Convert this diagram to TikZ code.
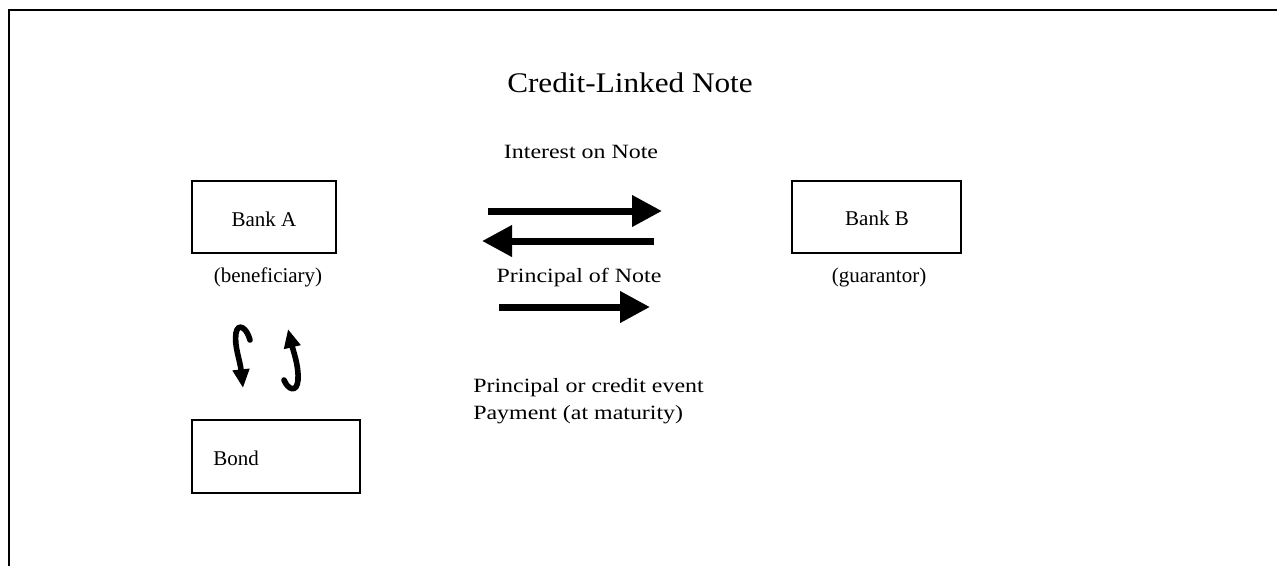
\documentclass[tikz,border=0pt]{standalone}
\usepackage{fontspec}
\setmainfont{Liberation Serif}
\newfontfamily\widefont[FakeStretch=1.18]{Liberation Serif}
\newfontfamily\titlefont[FakeStretch=1.1]{Liberation Serif}
\usetikzlibrary{arrows.meta}
\begin{document}
\begin{tikzpicture}[x=0.75pt,y=-0.75pt,
  frame/.style={line width=2.2pt},
  box/.style={draw,line width=1.5pt,inner sep=0pt,font=\fontsize{15.75}{19}\selectfont},
  small/.style={font=\fontsize{15.75}{19}\selectfont,anchor=base,inner sep=0pt},
  mid/.style={font=\widefont\fontsize{15.2}{20}\selectfont,anchor=base,inner sep=0pt},
  blockarrow/.style={line width=5.25pt,-{Triangle[length=22.5pt,width=22.5pt]}},
  curlarrow/.style={line width=4.2pt,line cap=round,-{Triangle[length=14pt,width=12pt]}}]
\useasboundingbox (0,0) rectangle (1277,565);
\draw[frame] (9,566) |- (1280,10);

\node[font=\titlefont\fontsize{21.3}{26}\selectfont,anchor=base,inner sep=0pt] (title) at (630,92) {Credit-Linked Note};

\node[box,minimum width=108pt,minimum height=54pt] (bankA) at (264,217) {};
\node[small] (bankAt) at (264,226) {Bank A};
\node[small] (benef) at (268,282) {(beneficiary)};

\node[box,minimum width=126.75pt,minimum height=54pt] (bankB) at (876.5,217) {};
\node[small] (bankBt) at (877,225) {Bank B};
\node[small] (guar) at (879,282) {(guarantor)};

\node[box,minimum width=126pt,minimum height=54.75pt] (bond) at (276,456.5) {};
\node[small,anchor=base west] (bondt) at (213,465) {Bond};

\node[mid] (intnote) at (581,158) {Interest on Note};
\node[mid] (prnote) at (579,282) {Principal of Note};
\node[mid,anchor=base west] (princ1) at (473,392) {Principal or credit event};
\node[mid,anchor=base west] (princ2) at (473,419) {Payment (at maturity)};

\coordinate (a1s) at (488,211); \coordinate (a1e) at (662,211);
\coordinate (a2s) at (654,241); \coordinate (a2e) at (482,241);
\coordinate (a3s) at (499,307); \coordinate (a3e) at (650,307);
\draw[blockarrow] (a1s) -- (a1e);
\draw[blockarrow] (a2s) -- (a2e);
\draw[blockarrow] (a3s) -- (a3e);

\coordinate (c1s) at (250,340); \coordinate (c1e) at (243,388);
\coordinate (c2s) at (284,380); \coordinate (c2e) at (288,329);
\draw[curlarrow] (c1s) .. controls (247,328) and (238,322) .. (236,333) .. controls (234,346) and (240,360) .. (c1e);
\draw[curlarrow] (c2s) .. controls (288,390) and (297,393) .. (298,380) .. controls (299,366) and (293,350) .. (c2e);
\end{tikzpicture}
\end{document}
